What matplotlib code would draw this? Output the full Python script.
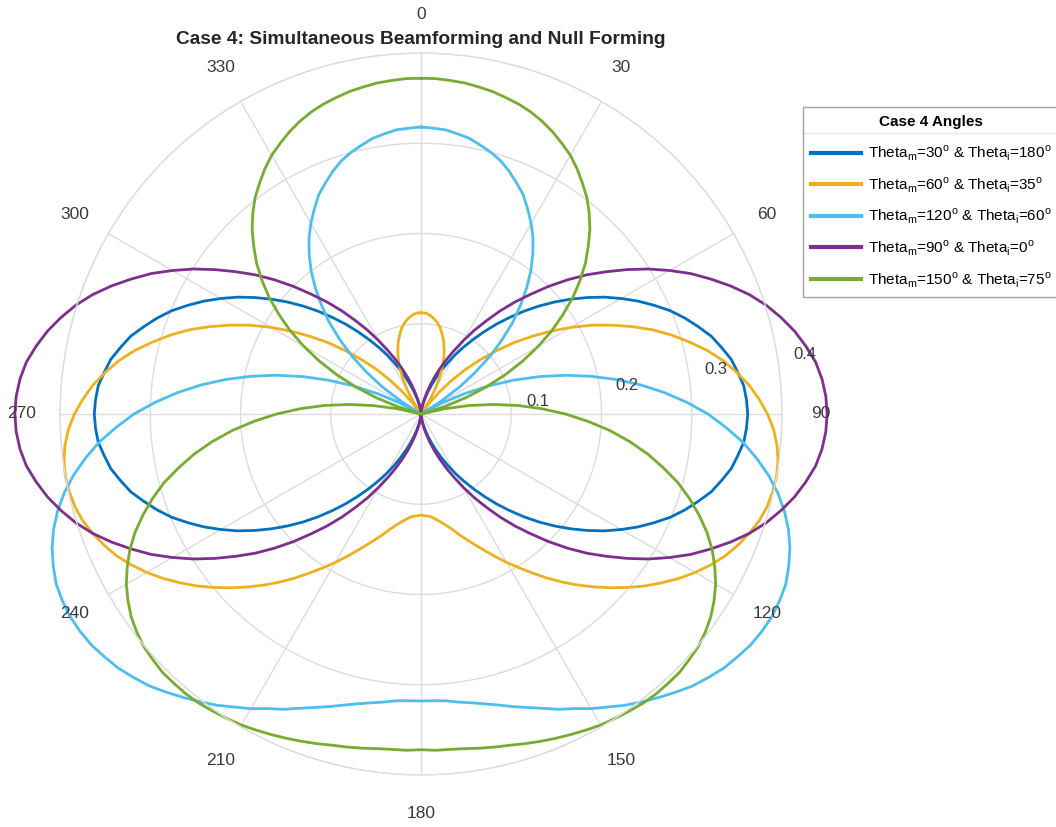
import numpy as np
import matplotlib.pyplot as plt
from matplotlib.lines import Line2D

plt.rcParams["font.family"] = ["Liberation Sans", "DejaVu Sans"]
plt.rcParams["mathtext.fontset"] = "custom"
plt.rcParams["mathtext.rm"] = "Liberation Sans"

# pattern magnitude every 2.5 deg from 0 to 180 (mirror-symmetric about the 0-180 axis)
angles_half = np.arange(0, 180.1, 2.5)

r_m30_i180 = [
    0.000, 0.001, 0.002, 0.005, 0.009, 0.013, 0.019, 0.026, 0.034, 0.043,
    0.053, 0.064, 0.076, 0.088, 0.101, 0.115, 0.130, 0.145, 0.161, 0.177,
    0.193, 0.209, 0.225, 0.241, 0.256, 0.271, 0.285, 0.299, 0.311, 0.322,
    0.333, 0.341, 0.349, 0.354, 0.359, 0.361, 0.362, 0.361, 0.359, 0.354,
    0.349, 0.341, 0.333, 0.322, 0.311, 0.299, 0.285, 0.271, 0.256, 0.241,
    0.225, 0.209, 0.193, 0.177, 0.161, 0.145, 0.130, 0.115, 0.101, 0.088,
    0.076, 0.064, 0.053, 0.043, 0.034, 0.026, 0.019, 0.013, 0.009, 0.005,
    0.002, 0.001, 0.000,
]
r_m60_i35 = [
    0.112, 0.112, 0.110, 0.107, 0.103, 0.098, 0.091, 0.084, 0.075, 0.066,
    0.055, 0.043, 0.029, 0.015, 0.000, 0.016, 0.033, 0.051, 0.070, 0.089,
    0.109, 0.130, 0.150, 0.171, 0.192, 0.213, 0.233, 0.253, 0.273, 0.291,
    0.308, 0.325, 0.340, 0.353, 0.365, 0.375, 0.384, 0.391, 0.396, 0.399,
    0.400, 0.399, 0.397, 0.393, 0.387, 0.380, 0.372, 0.362, 0.351, 0.339,
    0.326, 0.313, 0.299, 0.285, 0.271, 0.257, 0.243, 0.229, 0.215, 0.202,
    0.190, 0.178, 0.167, 0.157, 0.148, 0.140, 0.132, 0.126, 0.121, 0.117,
    0.114, 0.113, 0.112,
]
r_m120_i60 = [
    0.318, 0.317, 0.316, 0.313, 0.310, 0.305, 0.300, 0.294, 0.286, 0.277,
    0.268, 0.256, 0.244, 0.231, 0.216, 0.200, 0.182, 0.163, 0.144, 0.122,
    0.100, 0.076, 0.052, 0.026, 0.000, 0.027, 0.054, 0.082, 0.110, 0.138,
    0.166, 0.193, 0.220, 0.246, 0.271, 0.295, 0.318, 0.338, 0.358, 0.375,
    0.391, 0.405, 0.417, 0.427, 0.435, 0.441, 0.446, 0.448, 0.449, 0.448,
    0.446, 0.442, 0.438, 0.432, 0.426, 0.418, 0.410, 0.402, 0.394, 0.385,
    0.377, 0.368, 0.361, 0.353, 0.346, 0.340, 0.334, 0.329, 0.325, 0.322,
    0.319, 0.318, 0.318,
]
r_m90_i0 = [
    0.000, 0.001, 0.003, 0.006, 0.011, 0.017, 0.024, 0.033, 0.043, 0.054,
    0.066, 0.079, 0.094, 0.110, 0.126, 0.144, 0.162, 0.180, 0.200, 0.220,
    0.240, 0.259, 0.279, 0.299, 0.318, 0.337, 0.354, 0.371, 0.387, 0.401,
    0.413, 0.424, 0.433, 0.441, 0.446, 0.449, 0.450, 0.449, 0.446, 0.441,
    0.433, 0.424, 0.413, 0.401, 0.387, 0.371, 0.354, 0.337, 0.318, 0.299,
    0.279, 0.259, 0.240, 0.220, 0.200, 0.180, 0.162, 0.144, 0.126, 0.110,
    0.094, 0.079, 0.066, 0.054, 0.043, 0.033, 0.024, 0.017, 0.011, 0.006,
    0.003, 0.001, 0.000,
]
r_m150_i75 = [
    0.372, 0.372, 0.371, 0.370, 0.368, 0.366, 0.363, 0.360, 0.356, 0.351,
    0.345, 0.338, 0.331, 0.322, 0.312, 0.302, 0.290, 0.277, 0.262, 0.247,
    0.230, 0.212, 0.192, 0.172, 0.150, 0.127, 0.103, 0.078, 0.053, 0.027,
    0.000, 0.027, 0.054, 0.081, 0.108, 0.134, 0.160, 0.185, 0.210, 0.233,
    0.255, 0.275, 0.295, 0.312, 0.328, 0.343, 0.356, 0.367, 0.377, 0.385,
    0.392, 0.397, 0.401, 0.403, 0.405, 0.405, 0.405, 0.404, 0.402, 0.400,
    0.398, 0.395, 0.392, 0.389, 0.386, 0.383, 0.380, 0.378, 0.376, 0.374,
    0.373, 0.373, 0.372,
]

series = [r_m30_i180, r_m60_i35, r_m120_i60, r_m90_i0, r_m150_i75]
labels = [
    r"Theta$_{\mathrm{m}}$=30$^{\mathrm{o}}$ & Theta$_{\mathrm{i}}$=180$^{\mathrm{o}}$",
    r"Theta$_{\mathrm{m}}$=60$^{\mathrm{o}}$ & Theta$_{\mathrm{i}}$=35$^{\mathrm{o}}$",
    r"Theta$_{\mathrm{m}}$=120$^{\mathrm{o}}$ & Theta$_{\mathrm{i}}$=60$^{\mathrm{o}}$",
    r"Theta$_{\mathrm{m}}$=90$^{\mathrm{o}}$ & Theta$_{\mathrm{i}}$=0$^{\mathrm{o}}$",
    r"Theta$_{\mathrm{m}}$=150$^{\mathrm{o}}$ & Theta$_{\mathrm{i}}$=75$^{\mathrm{o}}$",
]
colors = ["#0072BD", "#EDB120", "#4DBEEE", "#7E2F8E", "#77AC30"]

theta_ticks = np.arange(0, 360, 30)
r_ticks = [0.1, 0.2, 0.3, 0.4]

W, H = 1056, 827
cx, cy, R = 421, 414, 361
fig = plt.figure(figsize=(W / 100, H / 100), dpi=100)
ax = fig.add_axes([(cx - R) / W, (H - cy - R) / H, 2 * R / W, 2 * R / H], projection="polar")
ax.set_theta_zero_location("N")
ax.set_theta_direction(-1)
ax.set_rlim(0, 0.4)

grid_c = "#dcdce0"
ax.set_xticks(np.deg2rad(theta_ticks))
ax.set_xticklabels([])
ax.set_yticks(r_ticks)
ax.set_yticklabels([])
ax.grid(True, color=grid_c, lw=1.0)
ax.spines["polar"].set_color(grid_c)
ax.spines["polar"].set_linewidth(1.0)
ax.tick_params(length=0)

full_theta = np.deg2rad(np.concatenate([angles_half, 360 - angles_half[-2::-1]]))
for r, c, lab in zip(series, colors, labels):
    r = np.asarray(r)
    full_r = np.concatenate([r, r[-2::-1]])
    ax.plot(full_theta, full_r, color=c, lw=2.0, label=lab, clip_on=False)

txt_c = "#3a3a3a"
for t in theta_ticks:
    ax.text(np.deg2rad(t), 0.443, f"{t}", ha="center", va="center",
            fontsize=12.5, color=txt_c, clip_on=False)
for rv in r_ticks:
    ax.annotate(f"{rv:g}", (np.deg2rad(80), rv), xytext=(28, -3),
                textcoords="offset pixels", ha="center", va="center",
                fontsize=12, color=txt_c, annotation_clip=False)

fig.text(cx / W, 1 - 40 / H, "Case 4: Simultaneous Beamforming and Null Forming",
         ha="center", va="center", fontsize=13.8, fontweight="bold", color="#262626")

leg = fig.legend(loc="upper left", bbox_to_anchor=(803 / W, 1 - 107 / H),
                 title="Case 4 Angles", fontsize=11, frameon=True, fancybox=False,
                 handlelength=3.3, handletextpad=0.45, labelspacing=0.8,
                 borderpad=0.5, borderaxespad=0.0)
leg.get_title().set_fontweight("bold")
leg.get_title().set_fontsize(11)
leg.get_frame().set_edgecolor("#8c8c8c")
leg.get_frame().set_linewidth(1.0)
leg._legend_box.sep += 2
for h in leg.get_lines():
    h.set_linewidth(3.0)

# divider under the legend title
fig.canvas.draw()
fb = leg.get_frame().get_window_extent()
tb = leg.get_title().get_window_extent()
y_div = (tb.y0 - 4) / H
fig.add_artist(Line2D([fb.x0 / W, fb.x1 / W], [y_div, y_div], color="#8c8c8c", lw=1.0))

fig.savefig("out.png", dpi=100)
